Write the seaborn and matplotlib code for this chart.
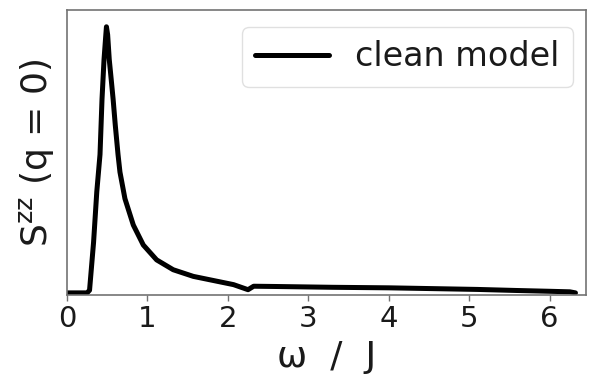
import matplotlib
matplotlib.use("Agg")
import matplotlib.pyplot as plt
import seaborn as sns
import pandas as pd

# Dynamical structure factor of the clean model
omega = [0.0, 0.25, 0.28, 0.33, 0.37, 0.41, 0.435, 0.46, 0.48, 0.49, 0.505, 0.525,
         0.55, 0.573, 0.60, 0.634, 0.658, 0.72, 0.824, 0.948, 1.114, 1.32, 1.57,
         1.86, 2.07, 2.25, 2.32, 2.6, 3.3, 4.0, 4.55, 5.1, 5.59, 6.0, 6.25, 6.32]
szz = [0.0, 0.0, 0.01, 0.19, 0.38, 0.52, 0.728, 0.877, 0.96, 1.0, 0.97, 0.877,
       0.80, 0.728, 0.63, 0.52, 0.454, 0.354, 0.255, 0.18, 0.124, 0.087, 0.062,
       0.044, 0.031, 0.012, 0.025, 0.024, 0.021, 0.019, 0.016, 0.013, 0.009, 0.006, 0.004, 0.0]
series_label = "clean model"
xticks = [0, 1, 2, 3, 4, 5, 6]

df = pd.DataFrame({"omega": omega, "szz": szz, "model": series_label})

sns.set_style("white")
plt.rcParams.update({
    "font.family": ["DejaVu Sans"],
    "axes.edgecolor": "0.45",
    "axes.linewidth": 1.2,
    "xtick.color": "0.45",
    "xtick.labelcolor": "0.1",
    "xtick.major.size": 4,
    "xtick.major.width": 1.0,
    "xtick.bottom": True,
    "lines.solid_capstyle": "round",
    "lines.solid_joinstyle": "round",
})

fig = plt.figure(figsize=(5.91, 3.79), dpi=100)
ax = fig.add_axes([0.1134, 0.2216, 0.878, 0.752])

sns.lineplot(data=df, x="omega", y="szz", hue="model", palette=["black"],
             linewidth=3.6, ax=ax, sort=False)

ax.set_xlim(0, 6.45)
ax.set_ylim(-0.008, 1.063)
ax.set_xticks(xticks)
ax.set_xticklabels([str(t) for t in xticks], fontsize=21)
ax.set_yticks([])
ax.set_xlabel("ω  /  J", fontsize=26, color="0.1", labelpad=5)
ax.set_ylabel(r"$\mathrm{S}^{\mathrm{zz}}$ (q = 0)", fontsize=26, color="0.1", labelpad=8)

leg = ax.legend(loc="upper right", bbox_to_anchor=(0.975, 0.94), borderaxespad=0,
                fontsize=24, frameon=True, fancybox=True,
                handlelength=2.2, handletextpad=0.8, labelcolor="0.1")
leg.get_frame().set_edgecolor("0.85")
leg.get_frame().set_linewidth(1.0)
for h in leg.get_lines():
    h.set_linewidth(3.6)

fig.savefig("out.png", dpi=100)
